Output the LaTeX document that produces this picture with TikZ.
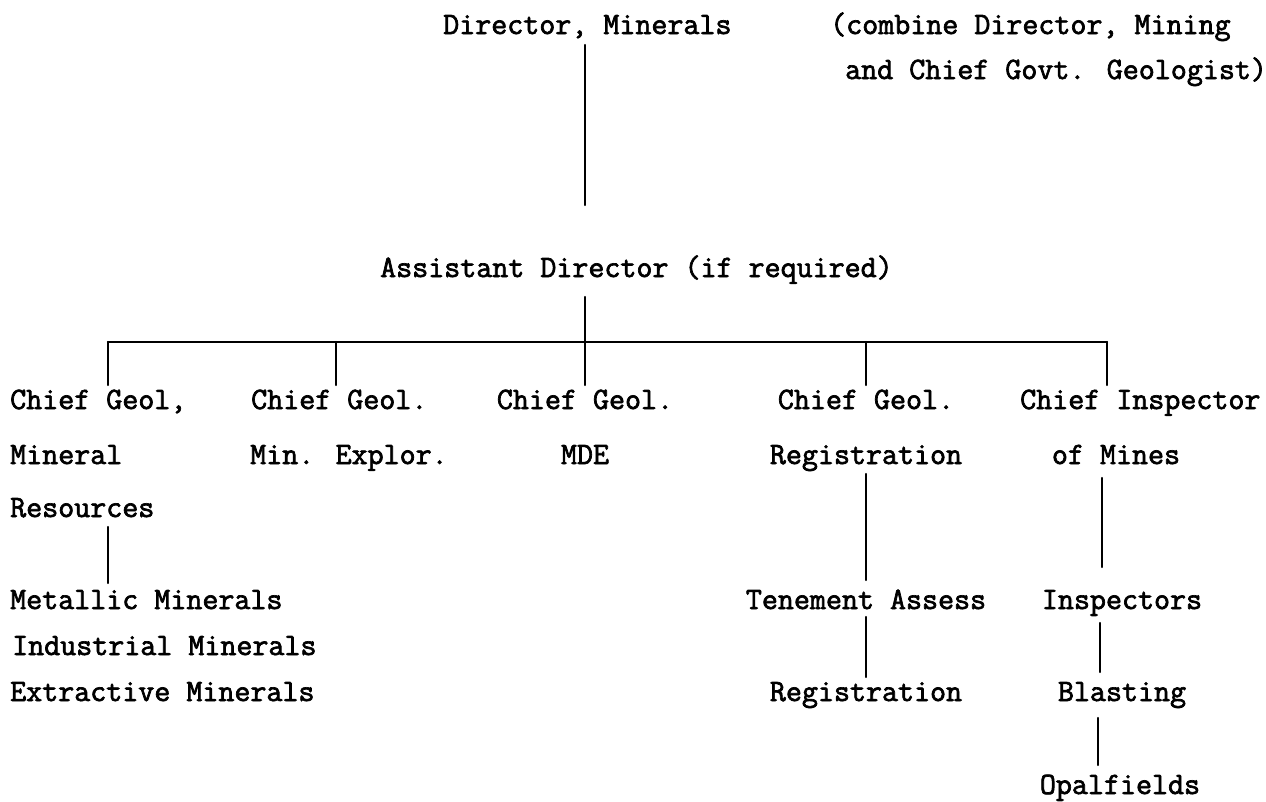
\documentclass[tikz,border=0pt]{standalone}
\usepackage{fontspec}
\newfontfamily\tw[FakeBold=2.2]{Latin Modern Mono}
\begin{document}
\begin{tikzpicture}[x=1pt,y=-1pt,
  lbl/.style={inner sep=0pt,font=\tw\fontsize{31.1}{31}\selectfont},
  lw/.style={lbl,anchor=base west},
  lc/.style={lbl,anchor=base},
  conn/.style={line width=2.4pt,line cap=round}]
\useasboundingbox[fill=white] (0,0) rectangle (1266,801);
% texts
\node[lw] (dir) at (443,34) {Director, Minerals};
\node[lw] (note1) at (830,34) {(combine Director, Mining};
\node[lw] (note2) at (845,79) {and Chief Govt. Geologist)};
\node[lw] (asst) at (380,277) {Assistant Director (if required)};
\node[lw] (c1a) at (10,409) {Chief Geol,};
\node[lw] (c1b) at (10,464) {Mineral};
\node[lw] (c1c) at (10,517) {Resources};
\node[lw] (c2a) at (251,409) {Chief Geol.};
\node[lw] (c2b) at (250,464) {Min. Explor.};
\node[lc] (c3a) at (585,409) {Chief Geol.};
\node[lc] (c3b) at (585,464) {MDE};
\node[lc] (c4a) at (866,409) {Chief Geol.};
\node[lc] (c4b) at (866,464) {Registration};
\node[lw] (c5a) at (1020,409) {Chief Inspector};
\node[lc] (c5b) at (1116,464) {of Mines};
\node[lw] (m1) at (10,609) {Metallic Minerals};
\node[lw] (m2) at (12,655) {Industrial Minerals};
\node[lw] (m3) at (10,701) {Extractive Minerals};
\node[lc] (t1) at (866,609) {Tenement Assess};
\node[lc] (t2) at (866,701) {Registration};
\node[lc] (i1) at (1122,609) {Inspectors};
\node[lc] (i2) at (1122,701) {Blasting};
\node[lc] (i3) at (1120,794) {Opalfields};
% connector end points
\coordinate (dtop) at (585,45);
\coordinate (dbot) at (585,205);
\coordinate (atop) at (585,297);
\coordinate (b1) at (108,342);
\coordinate (b2) at (336,342);
\coordinate (b3) at (585,342);
\coordinate (b4) at (866,342);
\coordinate (b5) at (1107,342);
\draw[conn] (dtop) -- (dbot);
\draw[conn] (atop) -- (b3);
\draw[conn] (b1) -- (b5);
\draw[conn] (b1) -- ++(0,43);
\draw[conn] (b2) -- ++(0,43);
\draw[conn] (b3) -- ++(0,43);
\draw[conn] (b4) -- ++(0,43);
\draw[conn] (b5) -- ++(0,43);
\coordinate (r1) at (108,527);
\draw[conn] (r1) -- ++(0,56);
\coordinate (g1) at (866,474);
\draw[conn] (g1) -- ++(0,106);
\coordinate (g2) at (866,617);
\draw[conn] (g2) -- ++(0,60);
\coordinate (h1) at (1102,478);
\draw[conn] (h1) -- ++(0,89);
\coordinate (h2) at (1100,623);
\draw[conn] (h2) -- ++(0,49);
\coordinate (h3) at (1098,718);
\draw[conn] (h3) -- ++(0,47);
\end{tikzpicture}
\end{document}
